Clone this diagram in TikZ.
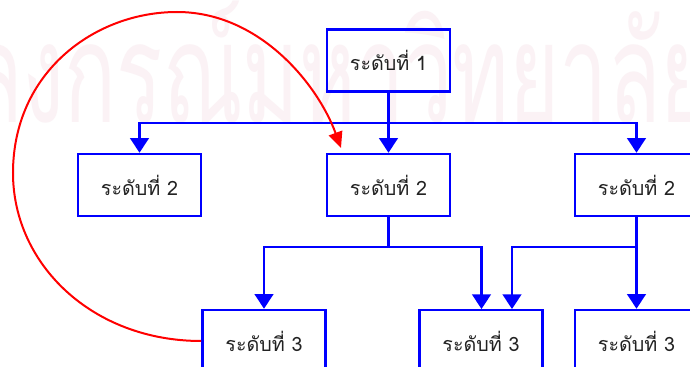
\documentclass[tikz,border=0pt]{standalone}
\usepackage{fontspec}
\newfontfamily\thaifont[Script=Thai]{Loma}
\usetikzlibrary{arrows.meta}
\definecolor{wm}{RGB}{251,242,245}
\definecolor{lblue}{RGB}{0,0,255}
\definecolor{lred}{RGB}{255,0,0}
\definecolor{ltext}{RGB}{34,34,34}
\tikzset{
  lvbox/.style={draw=lblue, line width=1.9pt, minimum width=92.25pt, minimum height=46.5pt, inner sep=0pt,
    font=\thaifont\fontsize{14.8}{16}\selectfont, text=ltext},
  bluearrow/.style={draw=lblue, line width=1.9pt, -{Triangle[length=11pt,width=14pt]}},
  blueline/.style={draw=lblue, line width=1.9pt},
  redarrow/.style={draw=lred, line width=1.5pt, -{Triangle[length=12pt,width=10.5pt]}}
}
\begin{document}
\begin{tikzpicture}[x=0.75pt,y=-0.75pt]
\useasboundingbox (0,0) rectangle (690,367);
\clip (0,0) rectangle (690,367);
\fill[white] (0,0) rectangle (690,367);
\node[anchor=base west, inner sep=0pt, text=wm, font=\thaifont\fontsize{104}{108}\selectfont] (wmark) at (-30,123) {\scalebox{0.62}[1]{ลงกรณ์มหาวิทยาลัย}};
% nodes
\node[lvbox] (L1) at (388.5,60.5) {ระดับที่ 1};
\node[lvbox] (L2a) at (139.5,185) {ระดับที่ 2};
\node[lvbox] (L2b) at (388.5,185) {ระดับที่ 2};
\node[lvbox] (L2c) at (636.5,185) {ระดับที่ 2};
\node[lvbox] (L3a) at (264,341) {ระดับที่ 3};
\node[lvbox] (L3b) at (481,341) {ระดับที่ 3};
\node[lvbox] (L3c) at (636.5,341) {ระดับที่ 3};
% bus coordinates
\coordinate (b1) at (388.5,123);
\coordinate (b2) at (388.5,247);
\coordinate (b3) at (636.5,247);
\coordinate (t3b1) at (481.5,309);
\coordinate (t3b2) at (512,309);
\coordinate (rend) at (341,148);
% connectors
\draw[blueline] (b1) -- (L1.south);
\draw[bluearrow] (b1) -| (L2a.north);
\draw[bluearrow] (b1) -| (L2c.north);
\draw[bluearrow] (b1) -- (L2b.north);
\draw[blueline] (L2b.south) -- (b2);
\draw[bluearrow] (b2) -| (L3a.north);
\draw[bluearrow] (b2) -| (t3b1);
\draw[bluearrow] (L2c.south) -- (L3c.north);
\draw[bluearrow] (b3) -| (t3b2);
% red curve
\draw[redarrow] (L3a.west) .. controls (92,341) and (13,264) .. (13,173)
  .. controls (13,72) and (95,12) .. (177,12)
  .. controls (260,12) and (318,85) .. (rend);
\end{tikzpicture}
\end{document}
